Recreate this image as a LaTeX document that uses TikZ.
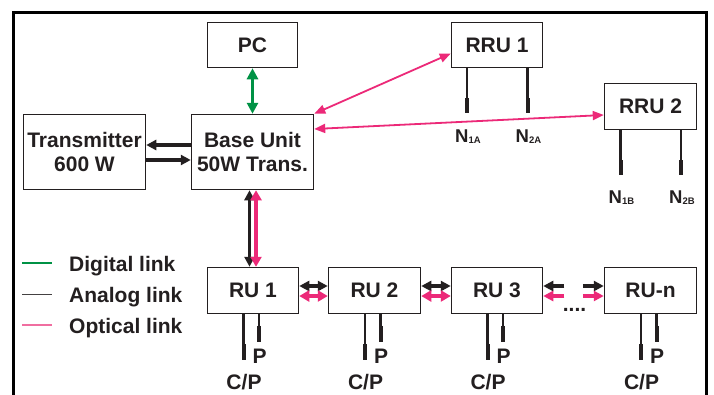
\documentclass[tikz,border=0pt]{standalone}
\usepackage{fontspec}
\setmainfont{Liberation Sans}
\usetikzlibrary{arrows.meta}
\definecolor{ink}{RGB}{35,31,32}
\definecolor{optpink}{RGB}{236,41,120}
\definecolor{legpink}{RGB}{240,110,160}
\definecolor{diggreen}{RGB}{0,146,69}
\newcommand\ruants[1]{%
  \draw[ink,line width=2.4pt] ([xshift=-9.5pt]#1.south) -- ++(0,30);
  \draw[ink,line width=4pt] ([xshift=-9.5pt,yshift=-30pt]#1.south) -- ++(0,15.5);
  \draw[ink,line width=2.4pt] ([xshift=6pt]#1.south) -- ++(0,11.5);
  \draw[ink,line width=4pt] ([xshift=6pt,yshift=-11.5pt]#1.south) -- ++(0,16.5);
  \node[lbl,anchor=base] (#1P) at ([xshift=6.5pt,yshift=-49pt]#1.south) {P};
  \node[lbl,anchor=base] (#1CP) at ([xshift=-9pt,yshift=-75.5pt]#1.south) {C/P};
}
\newcommand\rruants[4]{%
  \draw[ink,line width=2.4pt] ([xshift=-30pt]#1.south) -- ++(0,30);
  \draw[ink,line width=4pt] ([xshift=-30pt,yshift=-30pt]#1.south) -- ++(0,15);
  \draw[ink,line width=2.4pt] ([xshift=30.5pt]#1.south) -- ++(0,30);
  \draw[ink,line width=4pt] ([xshift=30.5pt,yshift=-30pt]#1.south) -- ++(0,15);
  \node[nlbl,anchor=base west] (#1Na) at ([xshift=-42pt,yshift=-#4]#1.south) {N\raisebox{-1.2pt}{\subf #2}};
  \node[nlbl,anchor=base west] (#1Nb) at ([xshift=18.5pt,yshift=-#4]#1.south) {N\raisebox{-1.2pt}{\subf #3}};
}
\newcommand\subf{\fontsize{9.5}{10}\selectfont}
\begin{document}
\begin{tikzpicture}[x=1pt,y=-1pt,
  box/.style={draw=ink,line width=1.5pt,inner sep=0pt,text=ink,align=center,
              font=\bfseries\fontsize{21}{24.3}\selectfont},
  lbl/.style={text=ink,inner sep=0pt,font=\bfseries\fontsize{21}{24}\selectfont},
  nlbl/.style={text=ink,inner sep=0pt,font=\bfseries\fontsize{18.5}{20}\selectfont},
  analog/.style={draw=ink,line width=3.2pt,
     arrows={Triangle[length=10pt,width=10pt]-Triangle[length=10pt,width=10pt]}},
  analogone/.style={draw=ink,line width=3.2pt,-{Triangle[length=10pt,width=10pt]}},
  optic/.style={draw=optpink,line width=3.2pt,
     arrows={Triangle[length=10pt,width=11pt]-Triangle[length=10pt,width=11pt]}},
  opticone/.style={draw=optpink,line width=3.2pt,-{Triangle[length=10pt,width=10pt]}},
  opticthin/.style={draw=optpink,line width=1.8pt,
     arrows={Triangle[length=11pt,width=9pt]-Triangle[length=11pt,width=9pt]}},
  digital/.style={draw=diggreen,line width=3.2pt,
     arrows={Triangle[length=11pt,width=11pt]-Triangle[length=11pt,width=11pt]}},
]
\useasboundingbox (0,0) rectangle (714,394);
\fill[white] (0,0) rectangle (714,394);
% frame (bottom side lies outside the picture)
\draw[black,line width=3pt] (13.5,400) -- (13.5,12.5) -- (706.5,12.5) -- (706.5,400);

% boxes
\node[box,minimum width=90pt,minimum height=45pt] (PC) at (252.5,45) {PC};
\node[box,minimum width=122pt,minimum height=75pt] (TX) at (84.5,152) {Transmitter\\600 W};
\node[box,minimum width=122pt,minimum height=75pt] (BU) at (252.5,152) {Base Unit\\50W Trans.};
\node[box,minimum width=91pt,minimum height=45pt] (RRUa) at (497,45) {RRU 1};
\node[box,minimum width=92pt,minimum height=46pt] (RRUb) at (650.5,106.5) {RRU 2};
\node[box,minimum width=91pt,minimum height=46pt] (RUa) at (253,290.5) {RU 1};
\node[box,minimum width=92pt,minimum height=46pt] (RUb) at (374.5,290.5) {RU 2};
\node[box,minimum width=91pt,minimum height=46pt] (RUc) at (497,290.5) {RU 3};
\node[box,minimum width=92pt,minimum height=46pt] (RUn) at (650.5,290.5) {RU-n};

% PC -- Base unit (digital)
\draw[digital] (PC.south) -- (BU.north);

% Base unit -- Transmitter (analog)
\draw[analogone] ([yshift=7pt]BU.west) -- ([yshift=7pt]TX.east);
\draw[analogone] ([yshift=-8pt]TX.east) -- ([yshift=-8pt]BU.west);

% Base unit -- RRUs (optical)
\draw[opticthin] (BU.north east) -- ([yshift=-8.5pt]RRUa.west);
\draw[opticthin] ([yshift=23pt]BU.east) -- ([yshift=-8.5pt]RRUb.west);

% Base unit -- RU 1
\draw[analog] ([xshift=-3pt]BU.south) -- ([xshift=-3pt]BU.south |- RUa.north);
\draw[optic] ([xshift=3.5pt]BU.south) -- ([xshift=3.5pt]BU.south |- RUa.north);

% RU chain
\draw[analog] ([yshift=4.5pt]RUa.east) -- ([yshift=4.5pt]RUb.west);
\draw[optic] ([yshift=-5.5pt]RUa.east) -- ([yshift=-5.5pt]RUb.west);
\draw[analog] ([yshift=4.5pt]RUb.east) -- ([yshift=4.5pt]RUc.west);
\draw[optic] ([yshift=-5.5pt]RUb.east) -- ([yshift=-5.5pt]RUc.west);

\coordinate (gLa) at ([xshift=21pt,yshift=4.5pt]RUc.east);
\coordinate (gLb) at ([xshift=21pt,yshift=-5.5pt]RUc.east);
\coordinate (gRa) at ([xshift=-21pt,yshift=4.5pt]RUn.west);
\coordinate (gRb) at ([xshift=-21pt,yshift=-5.5pt]RUn.west);
\draw[analogone] (gLa) -- ([yshift=4.5pt]RUc.east);
\draw[opticone] (gLb) -- ([yshift=-5.5pt]RUc.east);
\draw[analogone] (gRa) -- ([yshift=4.5pt]RUn.west);
\draw[opticone] (gRb) -- ([yshift=-5.5pt]RUn.west);
\node[lbl,anchor=base] (dots) at (574.5,311.5) {....};

% antennas
\rruants{RRUa}{1A}{2A}{74pt}
\rruants{RRUb}{1B}{2B}{73pt}
\ruants{RUa}
\ruants{RUb}
\ruants{RUc}
\ruants{RUn}

% legend
\draw[diggreen,line width=1.2pt] (22,263) -- (52,263);
\draw[ink!85,line width=1.2pt] (22,294.5) -- (52,294.5);
\draw[legpink,line width=1.2pt] (22,325) -- (52,325);
\node[lbl,anchor=base west] (lgD) at (69,271) {Digital link};
\node[lbl,anchor=base west] (lgA) at (69,302.5) {Analog link};
\node[lbl,anchor=base west] (lgO) at (69,333) {Optical link};
\end{tikzpicture}
\end{document}
